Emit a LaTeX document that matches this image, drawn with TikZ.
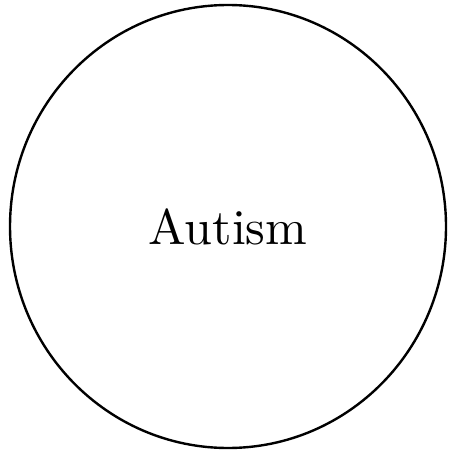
\documentclass[tikz,border=0pt]{standalone}
\usetikzlibrary{shapes.geometric}
\begin{document}
\begin{tikzpicture}[x=1pt,y=-1pt,
  ring/.style={ellipse,draw=black,line width=2.4pt,minimum width=436pt,minimum height=443pt,inner sep=0pt}]
\useasboundingbox (0,0) rectangle (449,454);
\node[ring] (autism) at (228,226.5) {\scalebox{5.0}{Autism}};
\end{tikzpicture}
\end{document}
